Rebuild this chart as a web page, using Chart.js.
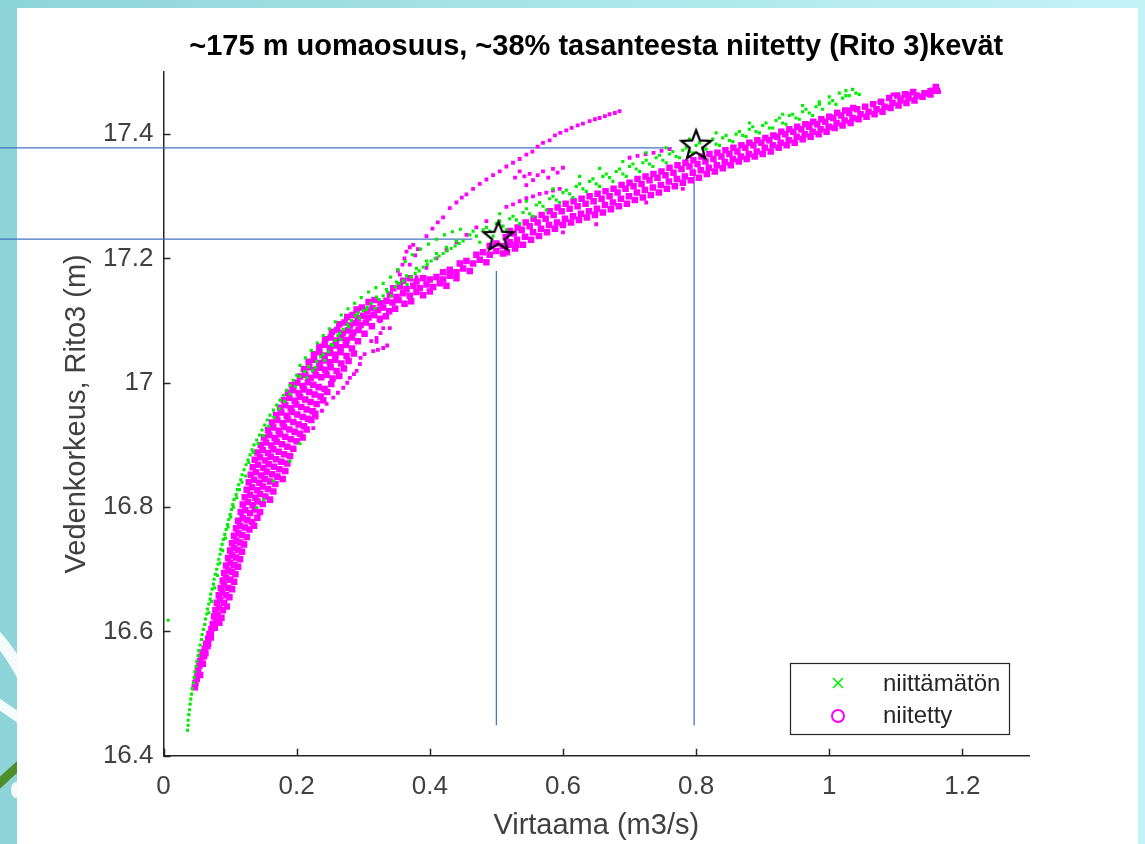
<!DOCTYPE html>
<html><head><meta charset="utf-8">
<script src="https://cdn.jsdelivr.net/npm/chart.js@4.4.1/dist/chart.umd.min.js"></script>
<style>
html,body{margin:0;padding:0;width:1145px;height:844px;overflow:hidden;background:linear-gradient(90deg,#8dd4d9 0%,#a9e6ea 50%,#c4f3f6 100%);}
#wrap{position:absolute;left:0;top:0;width:1145px;height:844px;}
</style></head><body><div id="wrap"><canvas id="c" width="1145" height="844"></canvas></div>
<script>
const titleText = '~175 m uomaosuus, ~38% tasanteesta niitetty (Rito 3)kevät';
const xTitle = 'Virtaama (m3/s)';
const yTitle = 'Vedenkorkeus, Rito3 (m)';
const seriesLabels = ['niittämätön', 'niitetty'];
const xTicks = [0, 0.2, 0.4, 0.6, 0.8, 1, 1.2];
const yTicks = [16.4, 16.6, 16.8, 17, 17.2, 17.4];

// niittämätön (green)
const niittamaton = [
[0.007,16.618],
[0.036,16.441],[0.037,16.449],[0.037,16.457],[0.038,16.466],[0.039,16.474],[0.040,16.483],[0.041,16.491],[0.042,16.499],[0.043,16.508],[0.045,16.517],[0.046,16.526],[0.047,16.535],[0.049,16.544],[0.050,16.552],[0.052,16.561],[0.053,16.569],[0.055,16.578],[0.057,16.587],[0.058,16.595],[0.060,16.603],[0.062,16.611],
[0.063,16.620],[0.065,16.628],[0.066,16.636],[0.068,16.644],[0.070,16.652],[0.071,16.660],[0.073,16.668],[0.075,16.676],[0.076,16.684],[0.078,16.692],[0.080,16.700],[0.082,16.708],[0.083,16.716],[0.085,16.724],[0.086,16.732],[0.088,16.740],[0.090,16.748],[0.092,16.756],[0.094,16.764],[0.096,16.772],[0.098,16.780],[0.100,16.788],[0.102,16.796],[0.104,16.804],[0.106,16.812],[0.109,16.820],[0.111,16.828],[0.113,16.836],[0.116,16.844],[0.118,16.852],[0.121,16.860],
[0.068,16.630],[0.072,16.648],[0.077,16.670],[0.081,16.690],[0.085,16.710],[0.089,16.730],[0.093,16.750],[0.097,16.768],[0.101,16.784],[0.105,16.800],[0.110,16.815],[0.114,16.828],[0.118,16.840],[0.123,16.850],
[0.124,16.868],[0.127,16.876],[0.130,16.884],[0.133,16.892],[0.136,16.900],[0.140,16.908],[0.144,16.916],[0.148,16.924],[0.152,16.932],[0.156,16.940],[0.160,16.948],[0.165,16.956],[0.170,16.964],[0.175,16.972],[0.180,16.980],[0.185,16.988],[0.190,16.996],[0.195,17.004],[0.200,17.012],
[0.128,16.872],[0.135,16.888],[0.142,16.902],[0.150,16.915],[0.158,16.930],[0.166,16.944],[0.174,16.958],[0.182,16.970],[0.190,16.982],[0.198,16.994],
[0.140,16.799],[0.150,16.812],[0.165,16.842],[0.190,16.874],[0.205,16.902],
[0.205,17.028],[0.213,17.040],[0.222,17.052],[0.231,17.064],[0.240,17.076],[0.249,17.087],[0.258,17.098],[0.267,17.109],[0.277,17.119],[0.287,17.128],[0.297,17.137],[0.308,17.146],[0.319,17.153],[0.330,17.160],[0.341,17.170],[0.352,17.182],[0.363,17.195],[0.374,17.206],[0.386,17.215],[0.398,17.223],[0.410,17.231],[0.422,17.238],[0.434,17.243],[0.446,17.247],
[0.205,17.010],[0.212,17.018],[0.218,17.026],[0.224,17.020],[0.230,17.034],[0.236,17.042],[0.242,17.036],[0.248,17.050],[0.254,17.060],[0.258,17.068],[0.262,17.076],[0.266,17.070],[0.270,17.086],[0.276,17.094],[0.282,17.100],[0.288,17.108],[0.294,17.104],[0.300,17.116],[0.306,17.122],[0.312,17.128],[0.318,17.120],[0.324,17.134],[0.330,17.140],[0.336,17.146],[0.342,17.140],[0.348,17.154],[0.354,17.160],[0.360,17.164],[0.366,17.158],[0.372,17.170],[0.378,17.176],[0.384,17.180],[0.390,17.186],[0.396,17.190],[0.402,17.196],[0.408,17.200],[0.414,17.204],[0.420,17.208],[0.426,17.212],[0.432,17.216],[0.438,17.220],[0.444,17.224],[0.450,17.228],
[0.215,17.008],[0.228,17.025],[0.240,17.046],[0.252,17.062],[0.265,17.080],[0.278,17.090],[0.292,17.112],[0.305,17.118],[0.320,17.138],[0.335,17.150],[0.350,17.162],[0.365,17.172],[0.380,17.184],[0.395,17.196],[0.410,17.208],[0.425,17.218],[0.440,17.228],
[0.460,17.238],[0.470,17.236],[0.480,17.246],[0.490,17.244],[0.500,17.256],[0.510,17.252],[0.520,17.264],[0.530,17.262],[0.540,17.274],[0.550,17.272],[0.560,17.286],[0.570,17.284],[0.580,17.296],[0.590,17.294],[0.600,17.306],[0.610,17.304],[0.620,17.316],[0.630,17.312],[0.640,17.324],[0.650,17.320],[0.660,17.332],[0.670,17.330],[0.680,17.340],[0.690,17.336],[0.700,17.348],[0.710,17.344],[0.720,17.354],[0.730,17.352],[0.740,17.362],[0.750,17.358],[0.760,17.368],[0.770,17.364],[0.780,17.374],[0.790,17.372],[0.800,17.382],[0.810,17.378],[0.820,17.388],[0.830,17.384],[0.840,17.394],[0.850,17.390],[0.860,17.400],[0.870,17.398],[0.880,17.408],[0.890,17.404],[0.900,17.414],[0.910,17.410],[0.920,17.422],[0.930,17.418],[0.940,17.430],[0.950,17.426],[0.960,17.436],[0.970,17.434],[0.980,17.444],[0.990,17.440],[1.000,17.450],[1.010,17.448],[1.020,17.458],[1.030,17.462],[1.040,17.466],[1.045,17.464],
[0.465,17.244],[0.485,17.250],[0.505,17.260],[0.525,17.268],[0.545,17.280],[0.565,17.290],[0.585,17.300],[0.605,17.310],[0.625,17.320],[0.645,17.328],[0.665,17.336],[0.685,17.344],[0.705,17.352],[0.725,17.358],[0.745,17.366],[0.765,17.372],[0.785,17.378],[0.805,17.386],[0.825,17.392],[0.845,17.398],[0.865,17.404],[0.885,17.412],[0.905,17.418],[0.925,17.426],[0.945,17.432],[0.965,17.440],[0.985,17.448],[1.005,17.454],[1.025,17.462],
[0.475,17.226],[0.495,17.236],[0.515,17.246],[0.535,17.256],[0.555,17.268],[0.575,17.278],[0.595,17.290],[0.615,17.298],[0.635,17.308],[0.655,17.316],[0.675,17.324],[0.695,17.332],[0.715,17.340],[0.735,17.348],[0.755,17.354],[0.775,17.362],[0.795,17.370],[0.815,17.376],[0.835,17.382],[0.855,17.388],[0.875,17.396],[0.895,17.402],[0.915,17.410],[0.935,17.416],[0.955,17.424],[0.975,17.430],
[0.505,17.272],[0.545,17.292],[0.585,17.312],[0.625,17.332],[0.655,17.345],[0.690,17.356],[0.725,17.370],[0.755,17.378],[0.790,17.392],[0.830,17.402],[0.880,17.418],[0.930,17.432],[0.960,17.446],[0.985,17.452],[1.000,17.460],[1.015,17.466],[1.025,17.470],[1.035,17.472]
];

// niitetty (magenta) - dense main band
const niitettyBand = [
[0.047,16.510],[0.048,16.517],[0.050,16.524],[0.051,16.531],[0.052,16.538],[0.054,16.545],[0.055,16.552],[0.057,16.559],[0.059,16.566],[0.061,16.560],[0.062,16.572],[0.064,16.580],[0.066,16.576],[0.067,16.588],[0.069,16.596],[0.071,16.590],[0.072,16.604],[0.074,16.612],[0.077,16.606],[0.079,16.616],[0.084,16.614],
[0.055,16.530],[0.059,16.548],[0.063,16.565],[0.067,16.580],[0.071,16.595],[0.075,16.610],
[0.076,16.624],[0.081,16.626],[0.087,16.622],[0.078,16.634],[0.083,16.638],[0.089,16.634],[0.080,16.646],[0.085,16.650],[0.091,16.646],[0.095,16.640],[0.083,16.658],[0.088,16.662],[0.094,16.658],[0.099,16.655],[0.086,16.670],[0.091,16.674],[0.097,16.670],[0.103,16.668],[0.089,16.682],[0.094,16.686],[0.100,16.683],[0.106,16.680],[0.091,16.694],[0.097,16.698],[0.103,16.696],[0.108,16.692],[0.094,16.706],[0.100,16.710],[0.106,16.707],[0.112,16.704],[0.097,16.718],[0.103,16.722],[0.109,16.719],[0.115,16.716],[0.100,16.730],[0.106,16.734],[0.112,16.731],[0.118,16.728],[0.103,16.742],[0.109,16.746],[0.115,16.743],[0.121,16.740],[0.106,16.754],[0.112,16.758],[0.118,16.755],[0.125,16.752],[0.109,16.766],[0.115,16.770],[0.122,16.767],[0.129,16.764],[0.136,16.770],[0.112,16.778],[0.119,16.782],[0.126,16.779],[0.133,16.776],[0.141,16.783],
[0.116,16.792],[0.123,16.795],[0.130,16.790],[0.137,16.796],[0.145,16.792],[0.119,16.804],[0.127,16.808],[0.134,16.803],[0.141,16.809],[0.149,16.805],[0.122,16.816],[0.130,16.820],[0.138,16.815],[0.145,16.821],[0.153,16.817],[0.160,16.812],[0.125,16.828],[0.133,16.832],[0.141,16.827],[0.149,16.833],[0.157,16.829],[0.165,16.825],[0.128,16.840],[0.136,16.844],[0.144,16.839],[0.152,16.845],[0.160,16.841],[0.168,16.837],[0.131,16.852],[0.139,16.856],[0.147,16.851],[0.155,16.857],[0.163,16.853],[0.171,16.849],[0.179,16.845],[0.134,16.864],[0.142,16.868],[0.150,16.863],[0.158,16.869],[0.166,16.865],[0.174,16.861],[0.183,16.858],[0.137,16.876],[0.145,16.880],[0.153,16.875],[0.161,16.881],[0.169,16.877],[0.177,16.873],[0.186,16.870],[0.141,16.888],[0.149,16.892],[0.157,16.887],[0.165,16.893],[0.173,16.889],[0.181,16.885],[0.190,16.882],
[0.146,16.900],[0.154,16.904],[0.162,16.899],[0.170,16.905],[0.178,16.901],[0.186,16.897],[0.195,16.894],[0.151,16.912],[0.159,16.916],[0.167,16.911],[0.175,16.917],[0.183,16.913],[0.191,16.909],[0.200,16.906],[0.209,16.912],[0.157,16.924],[0.165,16.928],[0.173,16.923],[0.181,16.929],[0.189,16.925],[0.197,16.921],[0.205,16.918],[0.215,16.925],[0.163,16.936],[0.171,16.940],[0.179,16.935],[0.187,16.941],[0.195,16.937],[0.203,16.933],[0.211,16.930],[0.222,16.940],[0.169,16.948],[0.177,16.952],[0.185,16.947],[0.193,16.953],[0.201,16.949],[0.209,16.945],[0.217,16.942],[0.228,16.950],[0.175,16.960],[0.183,16.964],[0.191,16.959],[0.199,16.965],[0.207,16.961],[0.215,16.957],[0.224,16.954],[0.181,16.972],[0.189,16.976],[0.197,16.971],[0.205,16.977],[0.213,16.973],[0.221,16.969],[0.230,16.966],[0.240,16.972],[0.187,16.984],[0.195,16.988],[0.203,16.983],[0.211,16.989],[0.219,16.985],[0.227,16.981],[0.236,16.978],[0.246,16.985],[0.193,16.996],[0.201,17.000],[0.209,16.995],[0.217,17.001],[0.225,16.997],[0.233,16.993],[0.242,16.990],[0.252,16.998],
[0.205,17.010],[0.213,17.013],[0.221,17.008],[0.229,17.012],[0.237,17.009],[0.245,17.013],[0.254,17.007],[0.264,17.011],
[0.211,17.022],[0.219,17.025],[0.227,17.020],[0.235,17.024],[0.243,17.021],[0.251,17.025],[0.260,17.019],[0.271,17.023],
[0.218,17.034],[0.226,17.037],[0.234,17.032],[0.242,17.036],[0.250,17.033],[0.258,17.037],[0.267,17.031],[0.278,17.035],
[0.226,17.046],[0.234,17.049],[0.242,17.044],[0.250,17.048],[0.258,17.045],[0.266,17.049],[0.275,17.043],[0.286,17.047],
[0.234,17.058],[0.242,17.061],[0.250,17.056],[0.258,17.060],[0.266,17.057],[0.274,17.061],[0.283,17.055],
[0.243,17.070],[0.251,17.073],[0.259,17.068],[0.267,17.072],[0.275,17.069],[0.283,17.073],[0.292,17.067],
[0.253,17.082],[0.261,17.085],[0.269,17.080],[0.277,17.084],[0.285,17.081],[0.293,17.085],[0.302,17.079],
[0.264,17.094],[0.272,17.097],[0.280,17.092],[0.288,17.096],[0.296,17.093],[0.304,17.097],[0.313,17.091],
[0.276,17.106],[0.284,17.109],[0.292,17.104],[0.300,17.108],[0.308,17.105],[0.316,17.109],[0.325,17.103],[0.334,17.107],
[0.290,17.118],[0.298,17.121],[0.306,17.116],[0.314,17.120],[0.322,17.117],[0.330,17.121],[0.339,17.115],[0.348,17.119],
[0.308,17.130],[0.317,17.133],[0.326,17.128],[0.335,17.132],[0.344,17.129],[0.353,17.133],[0.362,17.127],[0.372,17.131],
[0.340,17.142],[0.350,17.138],[0.360,17.144],[0.370,17.140],[0.380,17.146],[0.390,17.141],[0.400,17.147],[0.345,17.152],[0.355,17.155],[0.365,17.151],[0.375,17.156],[0.385,17.152],[0.395,17.158],[0.405,17.154],[0.415,17.160],[0.425,17.156],[0.360,17.164],[0.370,17.168],[0.380,17.163],[0.390,17.168],[0.400,17.166],[0.410,17.170],[0.420,17.166],[0.430,17.172],[0.440,17.168],[0.420,17.178],[0.430,17.182],[0.440,17.178],[0.450,17.184],[0.460,17.180],[0.445,17.192],[0.455,17.196],[0.465,17.192],[0.475,17.198],[0.485,17.194],[0.470,17.206],[0.480,17.210],[0.490,17.206],[0.500,17.212],[0.510,17.208],[0.490,17.220],[0.500,17.224],[0.510,17.220],[0.520,17.226],[0.530,17.222],
[0.516,17.210],[0.519,17.222],[0.514,17.234],[0.520,17.244],
[0.528,17.216],[0.531,17.230],[0.526,17.240],[0.532,17.250],
[0.540,17.222],[0.543,17.235],[0.538,17.246],[0.544,17.258],
[0.552,17.230],[0.555,17.242],[0.550,17.252],[0.556,17.264],
[0.564,17.236],[0.567,17.248],[0.562,17.258],[0.568,17.270],
[0.576,17.242],[0.579,17.254],[0.574,17.264],[0.580,17.276],
[0.588,17.248],[0.591,17.258],[0.586,17.270],[0.592,17.282],
[0.600,17.254],[0.603,17.264],[0.598,17.276],[0.604,17.288],
[0.612,17.258],[0.615,17.268],[0.610,17.280],[0.616,17.292],
[0.624,17.262],[0.627,17.272],[0.622,17.284],[0.628,17.296],
[0.636,17.266],[0.639,17.276],[0.634,17.288],[0.640,17.300],
[0.648,17.270],[0.651,17.280],[0.646,17.292],[0.652,17.304],
[0.660,17.274],[0.663,17.286],[0.658,17.296],[0.664,17.308],
[0.672,17.279],[0.675,17.290],[0.670,17.300],[0.676,17.312],
[0.684,17.284],[0.687,17.296],[0.682,17.306],[0.688,17.318],
[0.696,17.288],[0.699,17.300],[0.694,17.312],[0.700,17.322],
[0.708,17.294],[0.711,17.306],[0.706,17.316],[0.712,17.328],
[0.720,17.298],[0.723,17.310],[0.718,17.320],[0.724,17.332],
[0.732,17.302],[0.735,17.314],[0.730,17.326],[0.736,17.336],
[0.744,17.306],[0.747,17.318],[0.742,17.330],[0.748,17.340],
[0.756,17.312],[0.759,17.324],[0.754,17.334],[0.760,17.346],
[0.768,17.316],[0.771,17.328],[0.766,17.338],[0.772,17.350],
[0.780,17.322],[0.783,17.332],[0.778,17.344],[0.784,17.354],
[0.792,17.326],[0.795,17.338],[0.790,17.348],[0.796,17.358],
[0.804,17.330],[0.807,17.342],[0.802,17.352],[0.808,17.364],
[0.816,17.336],[0.819,17.346],[0.814,17.356],[0.820,17.368],
[0.828,17.340],[0.831,17.350],[0.826,17.360],[0.832,17.370],
[0.840,17.345],[0.843,17.355],[0.838,17.364],[0.844,17.374],
[0.852,17.350],[0.855,17.360],[0.850,17.368],[0.856,17.378],
[0.864,17.356],[0.867,17.364],[0.862,17.372],[0.868,17.382],
[0.876,17.360],[0.879,17.368],[0.874,17.378],[0.880,17.386],
[0.888,17.364],[0.891,17.372],[0.886,17.382],[0.892,17.390],
[0.900,17.368],[0.903,17.378],[0.898,17.386],[0.904,17.394],
[0.912,17.372],[0.915,17.382],[0.910,17.390],[0.916,17.398],
[0.924,17.378],[0.927,17.386],[0.922,17.396],[0.928,17.404],
[0.936,17.382],[0.939,17.390],[0.934,17.400],[0.940,17.408],
[0.948,17.386],[0.951,17.396],[0.946,17.404],[0.952,17.412],
[0.960,17.392],[0.963,17.400],[0.958,17.408],[0.964,17.416],
[0.972,17.396],[0.975,17.404],[0.970,17.412],[0.976,17.420],
[0.984,17.400],[0.987,17.408],[0.982,17.416],[0.988,17.424],
[0.996,17.404],[0.999,17.412],[0.994,17.420],[1.000,17.428],
[1.008,17.410],[1.011,17.418],[1.006,17.426],[1.012,17.434],
[1.020,17.414],[1.023,17.422],[1.018,17.430],[1.024,17.438],
[1.032,17.418],[1.035,17.426],[1.030,17.434],[1.036,17.442],
[1.044,17.424],[1.047,17.432],[1.042,17.440],
[1.056,17.428],[1.059,17.436],[1.054,17.444],
[1.068,17.432],[1.071,17.440],[1.066,17.448],
[1.080,17.436],[1.083,17.444],[1.078,17.452],
[1.092,17.442],[1.095,17.450],[1.090,17.458],
[1.104,17.446],[1.107,17.454],[1.102,17.462],
[1.116,17.450],[1.119,17.458],[1.114,17.464],
[1.128,17.454],[1.131,17.462],[1.126,17.468],
[1.140,17.460],[1.143,17.466],
[1.152,17.464],[1.155,17.470],
[1.162,17.470],[1.160,17.476]
];

// niitetty (magenta) - sparse strands, loops and outliers
const niitettyScatter = [
[0.225,16.927],[0.230,16.944],[0.238,16.955],[0.245,16.966],[0.255,16.976],[0.262,16.984],[0.270,16.992],[0.276,17.000],[0.280,17.008],[0.286,17.014],[0.290,17.019],[0.295,17.030],[0.296,17.040],[0.302,17.046],[0.315,17.051],[0.322,17.053],[0.330,17.056],[0.336,17.060],[0.320,17.066],[0.312,17.067],[0.320,17.072],[0.326,17.080],[0.330,17.088],[0.340,17.088],[0.325,17.099],
[0.352,17.180],[0.355,17.174],[0.359,17.190],[0.362,17.200],[0.365,17.211],[0.370,17.218],[0.375,17.222],[0.370,17.190],[0.382,17.215],[0.378,17.205],
[0.395,17.236],[0.404,17.248],[0.412,17.258],[0.420,17.266],[0.430,17.281],[0.440,17.290],[0.448,17.298],[0.455,17.303],[0.465,17.312],[0.475,17.320],[0.485,17.327],[0.495,17.334],[0.505,17.340],[0.515,17.348],[0.525,17.354],[0.535,17.360],[0.545,17.367],[0.554,17.372],[0.562,17.380],[0.570,17.386],[0.580,17.390],[0.588,17.398],[0.596,17.402],[0.605,17.406],[0.613,17.410],[0.622,17.414],[0.630,17.417],[0.640,17.421],[0.648,17.424],[0.655,17.426],[0.663,17.429],[0.670,17.432],[0.678,17.434],[0.685,17.437],
[0.380,17.170],[0.395,17.185],[0.410,17.200],[0.425,17.214],[0.440,17.226],[0.455,17.238],[0.470,17.250],[0.485,17.260],
[0.515,17.283],[0.525,17.287],[0.535,17.292],[0.545,17.297],[0.555,17.300],[0.565,17.304],[0.575,17.306],[0.585,17.309],[0.595,17.312],
[0.535,17.340],[0.542,17.332],[0.550,17.336],[0.555,17.326],[0.562,17.334],[0.570,17.340],[0.578,17.330],[0.585,17.344],[0.592,17.338],[0.600,17.346],[0.528,17.330],[0.545,17.318],
[0.700,17.362],[0.712,17.365],[0.724,17.368],[0.736,17.370],[0.748,17.373],[0.760,17.376],
[0.990,17.423],[1.010,17.436],[1.030,17.440],[1.055,17.444],[1.075,17.452],[0.970,17.417],[1.095,17.464],[1.110,17.460],[1.120,17.465],[1.150,17.471],[1.165,17.468],
[0.650,17.255],[0.725,17.290],[0.600,17.242],[0.780,17.312]
];

// reference lines and marked points
const refQ = [0.500, 0.797];
const refQTop = [17.180, 17.345];
const refQBottom = [16.449, 16.449];
const refH = [17.231, 17.378];
const refHStart = [-0.25, -0.25];
const refHEnd = [0.464, 0.764];
const starQ = [0.503, 0.800];
const starH = [17.236, 17.383];

const FONT = "'Liberation Sans', Arial, Helvetica, sans-serif";
const GREEN = '#00ee00', MAGENTA = '#ff00ff', BLUE = '#4472c4', AXIS = '#262626', TXT = '#404040';

function makeStar() {
  const c = document.createElement('canvas');
  c.width = 36; c.height = 36;
  const g = c.getContext('2d');
  g.beginPath();
  for (let i = 0; i < 10; i++) {
    const r = i % 2 ? 6.6 : 15.5;
    const a = -Math.PI / 2 + i * Math.PI / 5;
    g.lineTo(18 + r * Math.cos(a), 19 + r * Math.sin(a));
  }
  g.closePath();
  g.strokeStyle = '#000'; g.lineWidth = 2.2; g.lineJoin = 'miter';
  g.stroke();
  return c;
}
const starImg = makeStar();
const toXY = arr => arr.map(([x, y]) => ({ x, y }));

const datasets = [
  { label: 'stars', data: starQ.map((q, i) => ({ x: q, y: starH[i] })), pointStyle: starImg, pointRadius: 16, order: 0, clip: false },
  { label: seriesLabels[0], data: toXY(niittamaton), pointStyle: 'rect', pointRadius: 2.2,
    pointBackgroundColor: GREEN, pointBorderWidth: 0, order: 1 },
  { label: seriesLabels[1], data: toXY(niitettyScatter), pointStyle: 'rect', pointRadius: 2.7,
    pointBackgroundColor: MAGENTA, pointBorderWidth: 0, order: 2 },
  { label: seriesLabels[1], data: toXY(niitettyBand), pointStyle: 'rect', pointRadius: 4.6,
    pointBackgroundColor: MAGENTA, pointBorderWidth: 0, order: 2 }
];
refQ.forEach((q, i) => datasets.push({ label: 'v' + i, data: [{ x: q, y: refQBottom[i] }, { x: q, y: refQTop[i] }],
  showLine: true, borderColor: BLUE, borderWidth: 1.3, pointRadius: 0, clip: false, order: 3 }));
refH.forEach((h, i) => datasets.push({ label: 'h' + i, data: [{ x: refHStart[i], y: h }, { x: refHEnd[i], y: h }],
  showLine: true, borderColor: BLUE, borderWidth: 1.3, pointRadius: 0, clip: false, order: 3 }));

const fmt = v => String(+Number(v).toFixed(2));

const bgPlugin = {
  id: 'bg',
  beforeDraw(chart) {
    const ctx = chart.ctx;
    ctx.save();
    ctx.strokeStyle = 'rgba(255,255,255,0.9)';
    ctx.lineCap = 'round';
    ctx.lineWidth = 12;
    ctx.beginPath(); ctx.moveTo(-10, 630); ctx.quadraticCurveTo(10, 650, 25, 680); ctx.stroke();
    ctx.lineWidth = 10;
    ctx.beginPath(); ctx.moveTo(-10, 698); ctx.quadraticCurveTo(8, 710, 25, 722); ctx.stroke();
    ctx.strokeStyle = '#4e8f2c'; ctx.lineWidth = 9;
    ctx.beginPath(); ctx.moveTo(-8, 790); ctx.quadraticCurveTo(8, 775, 25, 760); ctx.stroke();
    ctx.fillStyle = 'rgba(255,255,255,0.9)';
    ctx.beginPath(); ctx.ellipse(16, 790, 5, 8, 0, 0, Math.PI * 2); ctx.fill();
    ctx.fillStyle = '#ffffff';
    ctx.fillRect(17, 8, 1121, 836);
    ctx.restore();
  },
  afterDraw(chart) {
    const ctx = chart.ctx, xs = chart.scales.x, ys = chart.scales.y, ca = chart.chartArea;
    ctx.save();
    ctx.strokeStyle = AXIS; ctx.lineWidth = 1.5;
    xTicks.forEach(v => { const p = Math.round(xs.getPixelForValue(v)) + 0.5; ctx.beginPath(); ctx.moveTo(p, ca.bottom); ctx.lineTo(p, ca.bottom - 7); ctx.stroke(); });
    yTicks.forEach(v => { const p = Math.round(ys.getPixelForValue(v)) + 0.5; ctx.beginPath(); ctx.moveTo(ca.left, p); ctx.lineTo(ca.left + 7, p); ctx.stroke(); });
    ctx.fillStyle = '#000';
    ctx.font = 'bold 29px ' + FONT;
    ctx.textAlign = 'center'; ctx.textBaseline = 'middle';
    ctx.fillText(titleText, (ca.left + ca.right) / 2, 47);
    ctx.fillStyle = TXT;
    ctx.font = '29px ' + FONT;
    ctx.fillText(xTitle, (ca.left + ca.right) / 2, 826);
    ctx.save();
    ctx.translate(77, (ca.top + ca.bottom) / 2);
    ctx.rotate(-Math.PI / 2);
    ctx.fillText(yTitle, 0, 0);
    ctx.restore();
    const lx = 790, ly = 663, lw = 219, lh = 71;
    ctx.fillStyle = '#fff'; ctx.fillRect(lx, ly, lw, lh);
    ctx.strokeStyle = AXIS; ctx.lineWidth = 1.2; ctx.strokeRect(lx + 0.5, ly + 0.5, lw, lh);
    ctx.strokeStyle = GREEN; ctx.lineWidth = 1.6;
    ctx.beginPath(); ctx.moveTo(833, 678); ctx.lineTo(843, 688); ctx.moveTo(843, 678); ctx.lineTo(833, 688); ctx.stroke();
    ctx.strokeStyle = MAGENTA; ctx.lineWidth = 2;
    ctx.beginPath(); ctx.arc(838, 716, 6, 0, Math.PI * 2); ctx.stroke();
    ctx.fillStyle = AXIS; ctx.font = '24px ' + FONT; ctx.textAlign = 'left'; ctx.textBaseline = 'middle';
    ctx.fillText(seriesLabels[0], 883, 684);
    ctx.fillText(seriesLabels[1], 883, 716);
    ctx.restore();
  }
};

new Chart(document.getElementById('c'), {
  type: 'scatter',
  data: { datasets },
  options: {
    responsive: false, animation: false, events: [],
    layout: { padding: { left: 0, top: 72, right: 116, bottom: 0 } },
    plugins: { legend: { display: false }, title: { display: false }, tooltip: { enabled: false } },
    scales: {
      x: {
        type: 'linear', min: 0, max: 1.3,
        afterBuildTicks: s => { s.ticks = xTicks.map(v => ({ value: v })); },
        afterFit: s => { s.height = 88.3; },
        ticks: { callback: fmt, font: { family: FONT, size: 26 }, color: TXT, padding: 16, maxRotation: 0, autoSkip: false },
        grid: { display: true, drawOnChartArea: false, drawTicks: false },
        border: { display: true, color: AXIS, width: 1.5 }
      },
      y: {
        type: 'linear', min: 16.4, max: 17.5,
        afterBuildTicks: s => { s.ticks = yTicks.map(v => ({ value: v })); },
        afterFit: s => { s.width = 163.5; },
        ticks: { callback: fmt, font: { family: FONT, size: 26 }, color: TXT, padding: 10, autoSkip: false },
        grid: { display: true, drawOnChartArea: false, drawTicks: false },
        border: { display: true, color: AXIS, width: 1.5 }
      }
    }
  },
  plugins: [bgPlugin]
});
</script></body></html>
